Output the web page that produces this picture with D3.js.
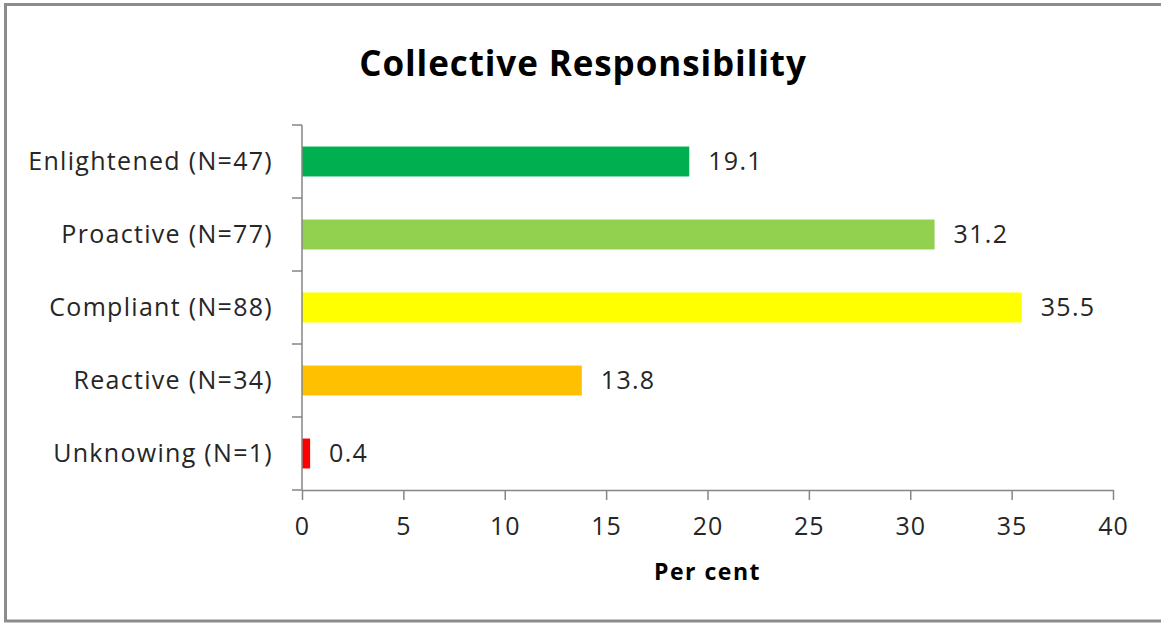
<!DOCTYPE html>
<html>
<head>
<meta charset="utf-8">
<script src="https://cdn.jsdelivr.net/npm/d3@7"></script>
<style>
  html, body { margin: 0; padding: 0; background: #fff; }
  svg { display: block; }
  text { font-family: "Open Sans", sans-serif; fill: #262626; }
</style>
</head>
<body>
<svg id="chart" width="1161" height="623"></svg>
<script>
// Categories top to bottom, their shares (per cent) and bar colours
const categories = ["Enlightened (N=47)", "Proactive (N=77)", "Compliant (N=88)", "Reactive (N=34)", "Unknowing (N=1)"];
const values = [19.1, 31.2, 35.5, 13.8, 0.4];
const colors = ["#00B050", "#92D050", "#FFFF00", "#FFC000", "#FF0000"];
const xTicks = [0, 5, 10, 15, 20, 25, 30, 35, 40];
const title = "Collective Responsibility";
const xTitle = "Per cent";

const svg = d3.select("#chart");
const W = 1161, H = 623;
const plot = { left: 302, right: 1113, top: 125, bottom: 490 };
const fontSize = 25;
const spacing = "1.3px";

// Outer chart frame
svg.append("rect")
  .attr("x", 5.5).attr("y", 4.5)
  .attr("width", W + 10).attr("height", 616.5)
  .attr("fill", "#fff").attr("stroke", "#8c8c8c").attr("stroke-width", 3);

const x = d3.scaleLinear().domain([0, 40]).range([plot.left, plot.right]);
const y = d3.scaleBand().domain(categories).range([plot.top, plot.bottom]).paddingInner(0.59).paddingOuter(0.295);
const yEdges = d3.scaleBand().domain(categories).range([plot.top, plot.bottom]);

// Bars
svg.append("g").selectAll("rect")
  .data(categories)
  .join("rect")
  .attr("x", x(0))
  .attr("y", d => y(d))
  .attr("width", (d, i) => x(values[i]) - x(0))
  .attr("height", y.bandwidth())
  .attr("fill", (d, i) => colors[i]);

// Value labels
svg.append("g").selectAll("text")
  .data(categories)
  .join("text")
  .attr("x", (d, i) => x(values[i]) + 19)
  .attr("y", d => y(d) + y.bandwidth() / 2)
  .attr("dy", "0.35em")
  .attr("font-size", fontSize)
  .style("letter-spacing", spacing)
  .text((d, i) => values[i].toFixed(1));

// X axis
const xAxis = svg.append("g")
  .attr("transform", `translate(0,${plot.bottom})`)
  .call(d3.axisBottom(x).tickValues(xTicks).tickSize(10).tickPadding(17).tickSizeOuter(0));
xAxis.select(".domain").attr("stroke", "#868686").attr("stroke-width", 1.5);
xAxis.selectAll(".tick line").attr("stroke", "#868686").attr("stroke-width", 1.5);
xAxis.selectAll(".tick text").attr("font-size", fontSize).attr("fill", "#262626")
  .style("font-family", "'Open Sans', sans-serif")
  .style("letter-spacing", "1px");

// Y axis: ticks sit on band boundaries
const yAxisG = svg.append("g").attr("transform", `translate(${plot.left},0)`);
yAxisG.append("line")
  .attr("x1", 0).attr("x2", 0).attr("y1", plot.top).attr("y2", plot.bottom)
  .attr("stroke", "#868686").attr("stroke-width", 1.5);
const boundaries = categories.map(d => yEdges(d)).concat([plot.bottom]);
yAxisG.selectAll(".ytick")
  .data(boundaries)
  .join("line")
  .attr("x1", -10).attr("x2", 0)
  .attr("y1", d => d).attr("y2", d => d)
  .attr("stroke", "#868686").attr("stroke-width", 1.5);
yAxisG.selectAll(".ylabel")
  .data(categories)
  .join("text")
  .attr("x", -29)
  .attr("y", d => yEdges(d) + yEdges.bandwidth() / 2)
  .attr("dy", "0.35em")
  .attr("text-anchor", "end")
  .attr("font-size", fontSize)
  .style("letter-spacing", spacing)
  .text(d => d);

// Titles
svg.append("text")
  .attr("x", 583).attr("y", 64).attr("dy", "0.35em")
  .attr("text-anchor", "middle")
  .attr("font-size", 35).attr("font-weight", "bold")
  .style("letter-spacing", "0.9px")
  .style("fill", "#000")
  .text(title);

svg.append("text")
  .attr("x", (plot.left + plot.right) / 2).attr("y", 572).attr("dy", "0.35em")
  .attr("text-anchor", "middle")
  .attr("font-size", 23).attr("font-weight", "bold")
  .style("letter-spacing", "1.5px")
  .style("fill", "#000")
  .text(xTitle);
</script>
</body>
</html>
